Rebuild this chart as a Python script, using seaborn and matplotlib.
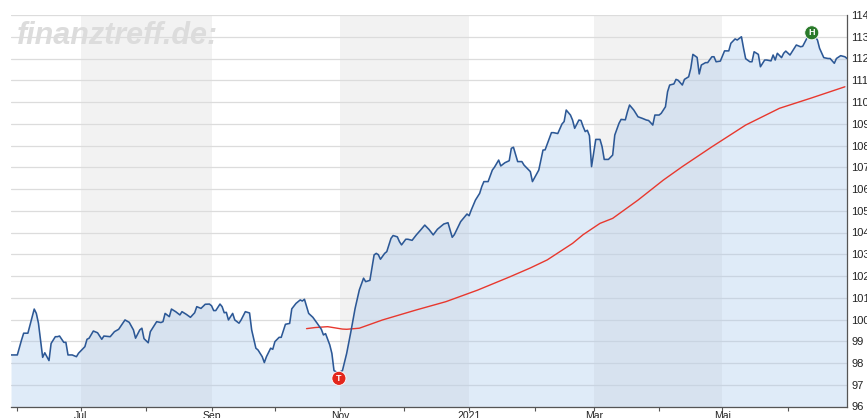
import matplotlib
matplotlib.use("Agg")
import matplotlib.pyplot as plt
import pandas as pd
import seaborn as sns

# ---------------- data ----------------
price_dates = [
    "2020-05-29", "2020-06-01", "2020-06-03", "2020-06-04", "2020-06-06", "2020-06-09", "2020-06-10",
    "2020-06-11", "2020-06-13", "2020-06-14", "2020-06-16", "2020-06-17", "2020-06-19", "2020-06-20",
    "2020-06-21", "2020-06-23", "2020-06-24", "2020-06-25", "2020-06-27", "2020-06-29", "2020-06-30",
    "2020-07-03", "2020-07-04", "2020-07-05", "2020-07-07", "2020-07-09", "2020-07-11", "2020-07-12",
    "2020-07-15", "2020-07-17", "2020-07-19", "2020-07-22", "2020-07-24", "2020-07-26", "2020-07-27",
    "2020-07-29", "2020-07-30", "2020-07-31", "2020-08-02", "2020-08-03", "2020-08-06", "2020-08-08",
    "2020-08-09", "2020-08-10", "2020-08-12", "2020-08-13", "2020-08-15", "2020-08-17", "2020-08-18",
    "2020-08-20", "2020-08-22", "2020-08-24", "2020-08-25", "2020-08-27", "2020-08-29", "2020-08-31",
    "2020-09-01", "2020-09-02", "2020-09-03", "2020-09-05", "2020-09-06", "2020-09-07", "2020-09-08",
    "2020-09-09", "2020-09-11", "2020-09-12", "2020-09-14", "2020-09-15", "2020-09-17", "2020-09-19",
    "2020-09-20", "2020-09-22", "2020-09-23", "2020-09-25", "2020-09-26", "2020-09-27", "2020-09-29",
    "2020-09-30", "2020-10-01", "2020-10-03", "2020-10-04", "2020-10-06", "2020-10-08", "2020-10-09",
    "2020-10-11", "2020-10-13", "2020-10-14", "2020-10-15", "2020-10-17", "2020-10-19", "2020-10-21",
    "2020-10-23", "2020-10-24", "2020-10-25", "2020-10-27", "2020-10-28", "2020-10-29", "2020-10-31",
    "2020-11-02", "2020-11-04", "2020-11-06", "2020-11-08", "2020-11-10", "2020-11-12", "2020-11-13",
    "2020-11-15", "2020-11-17", "2020-11-18", "2020-11-19", "2020-11-20", "2020-11-22", "2020-11-23",
    "2020-11-25", "2020-11-26", "2020-11-28", "2020-11-29", "2020-11-30", "2020-12-02", "2020-12-03",
    "2020-12-05", "2020-12-07", "2020-12-09", "2020-12-11", "2020-12-13", "2020-12-15", "2020-12-17",
    "2020-12-20", "2020-12-22", "2020-12-24", "2020-12-25", "2020-12-28", "2020-12-30", "2020-12-31",
    "2021-01-01", "2021-01-02", "2021-01-04", "2021-01-06", "2021-01-07", "2021-01-08", "2021-01-10",
    "2021-01-12", "2021-01-13", "2021-01-15", "2021-01-16", "2021-01-18", "2021-01-20", "2021-01-21",
    "2021-01-22", "2021-01-24", "2021-01-26", "2021-01-27", "2021-01-30", "2021-01-31", "2021-02-03",
    "2021-02-05", "2021-02-06", "2021-02-09", "2021-02-10", "2021-02-12", "2021-02-14", "2021-02-15",
    "2021-02-16", "2021-02-18", "2021-02-19", "2021-02-20", "2021-02-22", "2021-02-23", "2021-02-24",
    "2021-02-25", "2021-02-26", "2021-02-27", "2021-02-28", "2021-03-02", "2021-03-04", "2021-03-05",
    "2021-03-06", "2021-03-08", "2021-03-10", "2021-03-11", "2021-03-13", "2021-03-14", "2021-03-16",
    "2021-03-17", "2021-03-18", "2021-03-20", "2021-03-22", "2021-03-24", "2021-03-26", "2021-03-27",
    "2021-03-28", "2021-03-29", "2021-03-30", "2021-04-01", "2021-04-02", "2021-04-04", "2021-04-05",
    "2021-04-06", "2021-04-08", "2021-04-09", "2021-04-10", "2021-04-12", "2021-04-13", "2021-04-15",
    "2021-04-16", "2021-04-17", "2021-04-19", "2021-04-20", "2021-04-21", "2021-04-23", "2021-04-24",
    "2021-04-26", "2021-04-27", "2021-04-28", "2021-04-30", "2021-05-02", "2021-05-04", "2021-05-05",
    "2021-05-07", "2021-05-08", "2021-05-10", "2021-05-11", "2021-05-12", "2021-05-14", "2021-05-15",
    "2021-05-16", "2021-05-18", "2021-05-19", "2021-05-21", "2021-05-22", "2021-05-24", "2021-05-25",
    "2021-05-26", "2021-05-27", "2021-05-29", "2021-05-30", "2021-05-31", "2021-06-02", "2021-06-04",
    "2021-06-05", "2021-06-07", "2021-06-08", "2021-06-10", "2021-06-11", "2021-06-13", "2021-06-15",
    "2021-06-16", "2021-06-18", "2021-06-20", "2021-06-21", "2021-06-23", "2021-06-24", "2021-06-26",
    "2021-06-28", "2021-06-29",
]
price_values = [
    98.37, 98.37, 99.06, 99.37, 99.37, 100.48, 100.28,
    99.83, 98.26, 98.47, 98.11, 98.90, 99.21, 99.21,
    99.24, 98.95, 98.95, 98.37, 98.37, 98.29, 98.45,
    98.75, 99.09, 99.14, 99.47, 99.39, 99.09, 99.24,
    99.21, 99.44, 99.55, 99.98, 99.87, 99.52, 99.14,
    99.52, 99.60, 99.12, 98.93, 99.44, 99.90, 99.86,
    99.90, 100.28, 100.13, 100.48, 100.36, 100.21, 100.36,
    100.24, 100.10, 100.31, 100.59, 100.51, 100.70, 100.71,
    100.63, 100.41, 100.41, 100.71, 100.59, 100.31, 100.33,
    99.98, 100.28, 99.98, 99.83, 99.98, 100.36, 100.30,
    99.52, 98.68, 98.60, 98.29, 98.02, 98.29, 98.68,
    98.63, 98.98, 99.18, 99.18, 99.78, 99.82, 100.49,
    100.74, 100.90, 100.85, 100.93, 100.28, 100.10, 99.83,
    99.55, 99.29, 99.35, 98.83, 98.44, 97.65, 97.55,
    97.65, 98.44, 99.44, 100.51, 101.36, 101.90, 101.74,
    101.80, 102.97, 103.04, 102.98, 102.77, 103.04, 103.12,
    103.73, 103.86, 103.80, 103.58, 103.43, 103.69, 103.69,
    103.64, 103.89, 104.11, 104.34, 104.14, 103.89, 104.15,
    104.39, 104.45, 103.78, 103.90, 104.50, 104.73, 104.85,
    104.77, 105.03, 105.49, 105.80, 106.11, 106.34, 106.34,
    106.87, 107.00, 107.33, 107.06, 107.21, 107.30, 107.87,
    107.92, 107.26, 107.26, 107.10, 106.80, 106.34, 106.87,
    107.79, 107.80, 108.59, 108.59, 108.55, 108.99, 109.10,
    109.63, 109.40, 109.17, 108.79, 109.17, 109.15, 108.87,
    108.64, 108.70, 108.45, 107.03, 108.28, 108.28, 107.94,
    107.36, 107.36, 107.56, 108.48, 109.02, 109.20, 109.18,
    109.55, 109.86, 109.63, 109.32, 109.25, 109.17, 109.15,
    109.05, 108.94, 109.40, 109.40, 109.48, 109.78, 110.47,
    110.78, 110.83, 111.04, 111.00, 110.78, 111.04, 111.16,
    111.55, 112.19, 112.05, 111.29, 111.70, 111.81, 111.81,
    112.08, 112.08, 111.85, 111.88, 112.35, 112.35, 112.70,
    112.90, 112.85, 113.00, 112.47, 111.99, 111.85, 111.85,
    112.31, 112.19, 111.62, 111.93, 111.93, 111.89, 112.16,
    111.93, 112.24, 112.04, 112.24, 112.34, 112.16, 112.47,
    112.62, 112.54, 112.56, 112.93, 113.15, 113.12, 112.85,
    112.47, 112.04, 112.00, 112.00, 111.78, 112.00, 112.13,
    112.08, 112.00,
]

ma_dates = [
    "2020-10-16", "2020-10-20", "2020-10-26", "2020-11-02", "2020-11-04", "2020-11-10",
    "2020-11-21", "2020-12-07", "2020-12-21", "2021-01-05", "2021-01-20", "2021-01-30",
    "2021-02-07", "2021-02-19", "2021-02-24", "2021-03-04", "2021-03-10", "2021-03-22",
    "2021-04-03", "2021-04-12", "2021-04-26", "2021-05-12", "2021-05-28", "2021-06-12",
    "2021-06-28",
]
ma_values = [
    99.58, 99.63, 99.67, 99.56, 99.55, 99.60,
    99.98, 100.44, 100.82, 101.35, 101.95, 102.37,
    102.74, 103.50, 103.90, 104.42, 104.65, 105.49,
    106.41, 107.03, 107.94, 108.94, 109.71, 110.18,
    110.70,
]

tick_dates = ["2020-07-01", "2020-09-01", "2020-11-01", "2021-01-01", "2021-03-01", "2021-05-01"]
tick_labels = ["Jul", "Sep", "Nov", "2021", "Mar", "Mai"]
minor_tick_dates = ["2020-06-01", "2020-08-01", "2020-10-01", "2020-12-01",
                    "2021-02-01", "2021-04-01", "2021-06-01"]
band_starts = ["2020-07-01", "2020-11-01", "2021-03-01"]
band_ends = ["2020-09-01", "2021-01-01", "2021-05-01"]
y_ticks = list(range(96, 115))
watermark = "finanztreff.de:"

# ---------------- frames ----------------
price = pd.DataFrame({"date": pd.to_datetime(price_dates), "value": price_values})
ma = pd.DataFrame({"date": pd.to_datetime(ma_dates), "value": ma_values})

# ---------------- figure ----------------
sns.set_theme(style="white")
plt.rcParams["font.family"] = ["Liberation Sans", "DejaVu Sans"]

fig = plt.figure(figsize=(8.67, 4.18), dpi=100)
ax = fig.add_axes([11 / 867, 1 - 406.5 / 418, 836 / 867, 391.5 / 418])

for s, e in zip(band_starts, band_ends):
    ax.axvspan(pd.Timestamp(s), pd.Timestamp(e), color="#f2f2f2", lw=0, zorder=0)

ax.set_axisbelow(True)
ax.yaxis.grid(True, color="#dcdcdc", lw=0.9)
ax.xaxis.grid(False)

ax.fill_between(price["date"], price["value"], y_ticks[0], color="#a8c8ec",
                alpha=0.36, lw=0, zorder=1)
sns.lineplot(data=ma, x="date", y="value", color="#e8382e", lw=1.0, ax=ax, zorder=2)
sns.lineplot(data=price, x="date", y="value", color="#2c5896", lw=1.15, ax=ax, zorder=3)

# low / high markers
imin = price["value"].idxmin()
imax = price["value"].idxmax()
ax.annotate("T", xy=(price.loc[imin, "date"], price.loc[imin, "value"]),
            xytext=(0.5, -4), textcoords="offset points", ha="center", va="center",
            fontsize=6.5, fontweight="bold", color="white", zorder=5,
            bbox=dict(boxstyle="circle,pad=0.28", fc="#e3261c", ec="white", lw=0.6))
ax.annotate("H", xy=(price.loc[imax, "date"], price.loc[imax, "value"]),
            xytext=(2, 0.5), textcoords="offset points", ha="center", va="center",
            fontsize=6.5, fontweight="bold", color="white", zorder=5,
            bbox=dict(boxstyle="circle,pad=0.28", fc="#2a7a2a", ec="white", lw=0.6))

ax.set_xlim(pd.Timestamp("2020-05-29"), pd.Timestamp("2021-06-29"))
ax.set_ylim(y_ticks[0], y_ticks[-1])
ax.set_xlabel("")
ax.set_ylabel("")

ax.yaxis.tick_right()
ax.set_yticks(y_ticks)
ax.set_yticklabels([str(v) for v in y_ticks])
ax.tick_params(axis="y", which="both", length=0, pad=3, labelsize=8, labelcolor="#222222")

ax.set_xticks(pd.to_datetime(tick_dates))
ax.set_xticklabels(tick_labels)
ax.set_xticks(pd.to_datetime(minor_tick_dates), minor=True)
ax.tick_params(axis="x", which="both", direction="out", length=3, width=0.8,
               color="#555555", pad=0, labelsize=7.5, labelcolor="#222222",
               bottom=True)

for side in ["left", "top"]:
    ax.spines[side].set_visible(False)
for side in ["right", "bottom"]:
    ax.spines[side].set_visible(True)
    ax.spines[side].set_color("#555555")
    ax.spines[side].set_linewidth(0.9)

fig.text(17 / 867, 1 - 44 / 418, watermark, fontsize=22, fontweight="bold",
         style="italic", color="#dcdcdc", ha="left", va="baseline",
         family=["Liberation Sans", "DejaVu Sans"], zorder=1)

fig.savefig("out.png", dpi=100)
